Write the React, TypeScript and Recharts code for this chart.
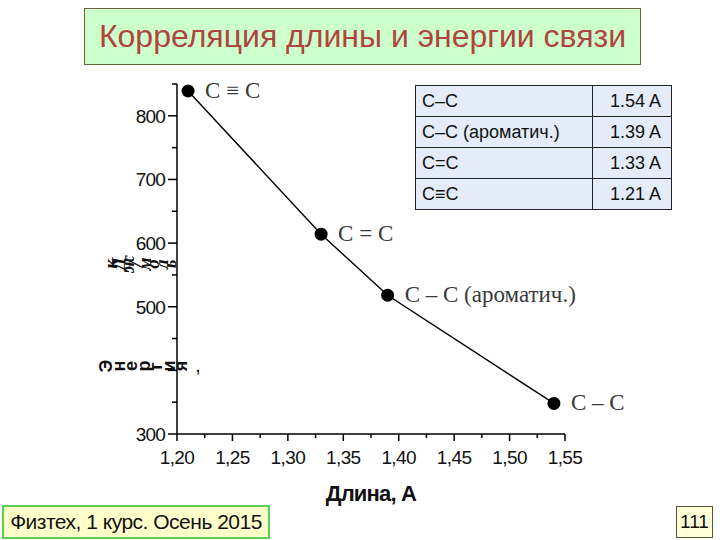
import React from "react";
import { LineChart, Line, XAxis, YAxis, Label } from "recharts";

// bond data
const bondLengths = [1.21, 1.33, 1.39, 1.54];
const bondEnergies = [839, 614, 518, 348];
const bondLabels = ["C ≡ C", "C = C", "C – C (ароматич.)", "C – C"];

// reference table (top right)
const tableBonds = ["C–C", "C–C (ароматич.)", "C=C", "C≡C"];
const tableLengths = ["1.54 A", "1.39 A", "1.33 A", "1.21 A"];

const xTicks = [1.2, 1.225, 1.25, 1.275, 1.3, 1.325, 1.35, 1.375, 1.4, 1.425, 1.45, 1.475, 1.5, 1.525, 1.55];
const xLabelled = [1.2, 1.25, 1.3, 1.35, 1.4, 1.45, 1.5, 1.55];
const yTicks = [300, 350, 400, 450, 500, 550, 600, 650, 700, 750, 800, 850];
const yMajor = [300, 400, 500, 600, 700, 800];
const yLabelled = [300, 500, 600, 700, 800];

const data = bondLengths.map((len, i) => ({
  len,
  energy: bondEnergies[i],
  name: bondLabels[i],
}));

const near = (arr: number[], v: number) => arr.some((a) => Math.abs(a - v) < 1e-6);

const sans = "'Liberation Sans', Arial, sans-serif";
const serif = "'Liberation Serif', 'Times New Roman', serif";

const XTick = (props: any) => {
  const { x, y, payload } = props;
  const v = payload.value as number;
  const major = near(xLabelled, v);
  return (
    <g>
      <line x1={x} x2={x} y1={y} y2={y + (major ? 7 : 4)} stroke="#000" strokeWidth={1.5} />
      {major && (
        <text x={x} y={y + 30} textAnchor="middle" fontFamily={sans} fontSize={19} letterSpacing={-0.6} fill="#111">
          {v.toFixed(2).replace(".", ",")}
        </text>
      )}
    </g>
  );
};

const YTick = (props: any) => {
  const { x, y, payload } = props;
  const v = payload.value as number;
  const major = near(yMajor, v);
  return (
    <g>
      <line x1={x} x2={x - (major ? 9 : 5)} y1={y} y2={y} stroke="#000" strokeWidth={1.5} />
      {near(yLabelled, v) && (
        <text x={x - 12} y={y + 7} textAnchor="end" fontFamily={sans} fontSize={19} letterSpacing={-0.8} fill="#111">
          {v}
        </text>
      )}
    </g>
  );
};

const BondDot = (props: any) => {
  const { cx, cy, payload, index } = props;
  return (
    <g key={`dot-${index}`}>
      <circle cx={cx} cy={cy} r={6.5} fill="#000" />
      <text x={cx + 17} y={cy + 7} fontFamily={serif} fontSize={23} fill="#3a3a3a">
        {payload.name}
      </text>
    </g>
  );
};

// the y title in the slide is rendered as rotated glyphs
const RotatedWord = ({ text, x, y, step, style }: any) => (
  <g>
    {Array.from(text as string).map((ch, i) => (
      <text
        key={i}
        x={0}
        y={0}
        transform={`translate(${x + i * step}, ${y}) rotate(-90)`}
        textAnchor="middle"
        dominantBaseline="central"
        style={style}
      >
        {ch}
      </text>
    ))}
  </g>
);

export default function App() {
  return (
    <div style={{ position: "absolute", left: 0, top: 0, width: 720, height: 540, background: "#fff", overflow: "hidden" }}>
      <LineChart
        width={720}
        height={540}
        data={data}
        margin={{ top: 84, right: 155, left: 0, bottom: 36 }}
      >
        <XAxis
          dataKey="len"
          type="number"
          domain={[1.2, 1.55]}
          ticks={xTicks}
          interval={0}
          tick={<XTick />}
          tickLine={false}
          tickSize={0}
          tickMargin={0}
          height={70}
          axisLine={{ stroke: "#000", strokeWidth: 1.5 }}
        >
          <Label
            value="Длина, А"
            position="insideBottom"
            offset={3}
            style={{ fontFamily: sans, fontSize: 22, fontWeight: 700, fill: "#111", letterSpacing: -0.8 }}
          />
        </XAxis>
        <YAxis
          type="number"
          domain={[300, 850]}
          ticks={yTicks}
          interval={0}
          tick={<YTick />}
          tickLine={false}
          tickSize={0}
          tickMargin={0}
          width={177}
          axisLine={{ stroke: "#000", strokeWidth: 1.5 }}
        />
        <Line
          dataKey="energy"
          stroke="#000"
          strokeWidth={1.4}
          dot={<BondDot />}
          activeDot={false}
          isAnimationActive={false}
        />
      </LineChart>

      {/* garbled y title as in the slide */}
      <svg style={{ position: "absolute", left: 0, top: 0 }} width={720} height={540} pointerEvents="none">
        <RotatedWord
          text="Энергия"
          x={106}
          y={366}
          step={12.5}
          style={{ fontFamily: sans, fontSize: 18, fontWeight: 700, fill: "#111" }}
        />
        <text x={196} y={372} fontFamily={sans} fontSize={14} fontWeight={700} fill="#111">,</text>
        <RotatedWord
          text="кДж/моль"
          x={110}
          y={264}
          step={8.5}
          style={{ fontFamily: serif, fontSize: 19, fontStyle: "italic", fontWeight: 700, fill: "#111" }}
        />
      </svg>

      <div
        style={{
          position: "absolute",
          left: 84,
          top: 8,
          width: 555,
          height: 55,
          background: "#ccffcc",
          border: "1px solid #66663a",
          display: "flex",
          alignItems: "center",
          justifyContent: "center",
          fontFamily: sans,
          fontSize: 32,
          color: "#b0443f",
        }}
      >
        Корреляция длины и энергии связи
      </div>

      <table
        style={{
          position: "absolute",
          left: 415,
          top: 85,
          width: 257,
          borderCollapse: "collapse",
          background: "#e3ecf8",
          fontFamily: sans,
          fontSize: 18,
          color: "#111",
        }}
      >
        <tbody>
          {tableBonds.map((b, i) => (
            <tr key={b} style={{ height: 31 }}>
              <td style={{ border: "1.5px solid #222", padding: "0 6px", width: 164, whiteSpace: "nowrap" }}>{b}</td>
              <td style={{ border: "1.5px solid #222", padding: "0 10px", textAlign: "right", whiteSpace: "nowrap" }}>{tableLengths[i]}</td>
            </tr>
          ))}
        </tbody>
      </table>

      <div
        style={{
          position: "absolute",
          left: 2,
          top: 505,
          width: 264,
          height: 30,
          background: "#ffffcc",
          border: "2px solid #5fcc55",
          display: "flex",
          alignItems: "center",
          justifyContent: "center",
          fontFamily: sans,
          fontSize: 21,
          color: "#111",
          letterSpacing: -0.5,
          whiteSpace: "nowrap",
        }}
      >
        Физтех, 1 курс. Осень 2015
      </div>

      <div
        style={{
          position: "absolute",
          left: 676,
          top: 506,
          width: 35,
          height: 30,
          background: "#ffffd8",
          border: "1px solid #55552f",
          display: "flex",
          alignItems: "center",
          justifyContent: "center",
          fontFamily: sans,
          fontSize: 19,
          color: "#111",
        }}
      >
        111
      </div>
    </div>
  );
}
